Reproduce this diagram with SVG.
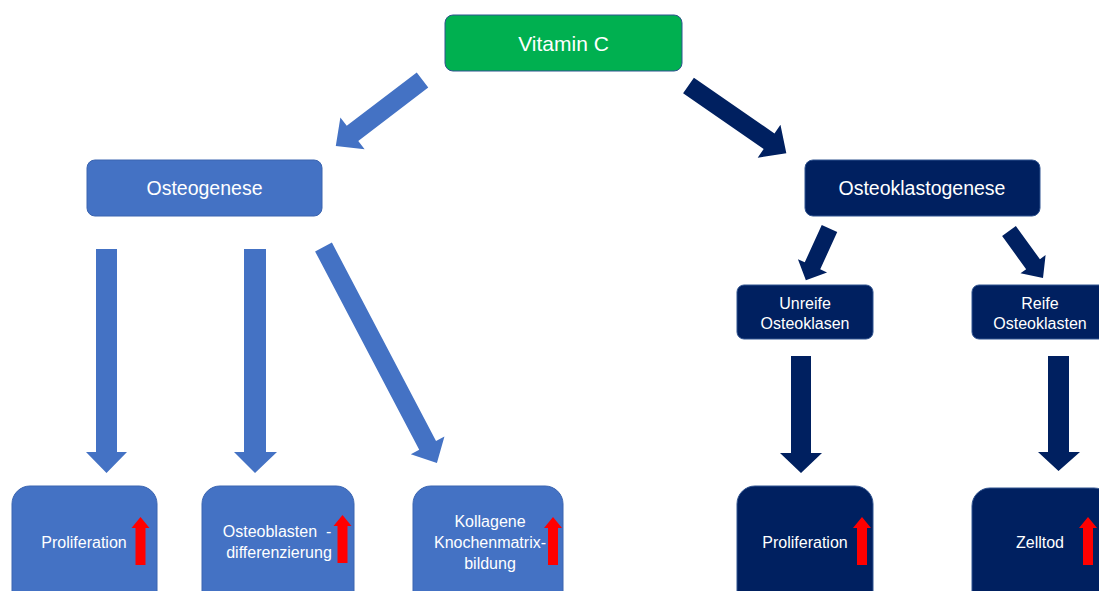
<svg xmlns="http://www.w3.org/2000/svg" xmlns:xlink="http://www.w3.org/1999/xlink" width="1099" height="591" viewBox="0 0 1099 591">
<style>
text{font-family:"Liberation Sans",Arial,sans-serif;fill:#FFFFFF;text-anchor:middle}
.light{fill:#4472C4;stroke:#3A64B0;stroke-width:1}
.dark{fill:#002060;stroke:#2F528F;stroke-width:1}
.green{fill:#00B050;stroke:#2F528F;stroke-width:1}
.al{fill:#4472C4}
.ad{fill:#002060}
.red{fill:#FF0000}
.t21{font-size:21px}
.t19{font-size:19.5px}
.t16{font-size:16px}
</style>
<defs>
<path id="up" d="M0,0 L9,11 L5,11 L5,48 L-5,48 L-5,11 L-9,11 Z"/>
</defs>
<rect width="1099" height="591" fill="#FFFFFF"/>
<g id="connectors">
<polygon class="al" transform="translate(422.5,80) rotate(142.7)" points="0,-9.5 88,-9.5 88,-20 109,0 88,20 88,9.5 0,9.5"/>
<polygon class="ad" transform="translate(688.5,85.5) rotate(34.7)" points="0,-9.5 98,-9.5 98,-20 119,0 98,20 98,9.5 0,9.5"/>
<polygon class="al" points="96,249 117,249 117,452 127,452 106.5,473 86,452 96,452"/>
<polygon class="al" points="244,249 266,249 266,452 277,452 255,473 234,452 244,452"/>
<polygon class="al" transform="translate(323.5,247) rotate(62.3)" points="0,-9.5 224,-9.5 224,-19 244,0 224,19 224,9.5 0,9.5"/>
<polygon class="ad" transform="translate(829.5,228.5) rotate(114.5)" points="0,-8.5 41,-8.5 41,-16 57,0 41,16 41,8.5 0,8.5"/>
<polygon class="ad" transform="translate(1009,231) rotate(54.1)" points="0,-8.5 41,-8.5 41,-15.5 58,0 41,15.5 41,8.5 0,8.5"/>
<polygon class="ad" points="791,356 811,356 811,453 822,453 801,473 780,453 791,453"/>
<polygon class="ad" points="1048,356 1069,356 1069,452 1080,452 1058.5,471 1038,452 1048,452"/>
</g>
<g id="vitamin-c">
<rect class="green" x="445" y="15" width="237" height="56" rx="8"/>
<text class="t21" x="563.5" y="50.5">Vitamin C</text>
</g>
<g id="osteogenese">
<rect class="light" x="87" y="160" width="235" height="56" rx="8"/>
<text class="t19" x="204.5" y="195">Osteogenese</text>
</g>
<g id="osteoklastogenese">
<rect class="dark" x="805" y="160" width="235" height="56" rx="8"/>
<text class="t19" x="922" y="195">Osteoklastogenese</text>
</g>
<g id="unreife">
<rect class="dark" x="737" y="285" width="136" height="54" rx="7"/>
<text class="t16" x="805" y="308.6">Unreife</text>
<text class="t16" x="805" y="328.6">Osteoklasen</text>
</g>
<g id="reife">
<rect class="dark" x="972" y="285" width="138" height="54" rx="7"/>
<text class="t16" x="1040" y="308.6">Reife</text>
<text class="t16" x="1040" y="328.6">Osteoklasten</text>
</g>
<g id="proliferation-osteo">
<rect class="light" x="12" y="486" width="145" height="130" rx="18"/>
<text class="t16" x="84" y="547.6">Proliferation</text>
<use href="#up" xlink:href="#up" class="red" x="140.5" y="517"/>
</g>
<g id="osteoblasten">
<rect class="light" x="202" y="486" width="152" height="130" rx="18"/>
<text class="t16" x="277" y="536.6">Osteoblasten&#160; -</text>
<text class="t16" x="279" y="557.6">differenzierung</text>
<use href="#up" xlink:href="#up" class="red" x="342.5" y="515"/>
</g>
<g id="kollagene">
<rect class="light" x="413" y="486" width="150" height="130" rx="18"/>
<text class="t16" x="490" y="526.6">Kollagene</text>
<text class="t16" x="490" y="547.6">Knochenmatrix-</text>
<text class="t16" x="490" y="568.6">bildung</text>
<use href="#up" xlink:href="#up" class="red" x="553" y="517"/>
</g>
<g id="proliferation-klasten">
<rect class="dark" x="737" y="486" width="136" height="130" rx="18"/>
<text class="t16" x="805" y="547.6">Proliferation</text>
<use href="#up" xlink:href="#up" class="red" x="862" y="517"/>
</g>
<g id="zelltod">
<rect class="dark" x="972" y="488" width="140" height="130" rx="18"/>
<text class="t16" x="1040" y="547.6">Zelltod</text>
<use href="#up" xlink:href="#up" class="red" x="1088" y="517"/>
</g>
</svg>
